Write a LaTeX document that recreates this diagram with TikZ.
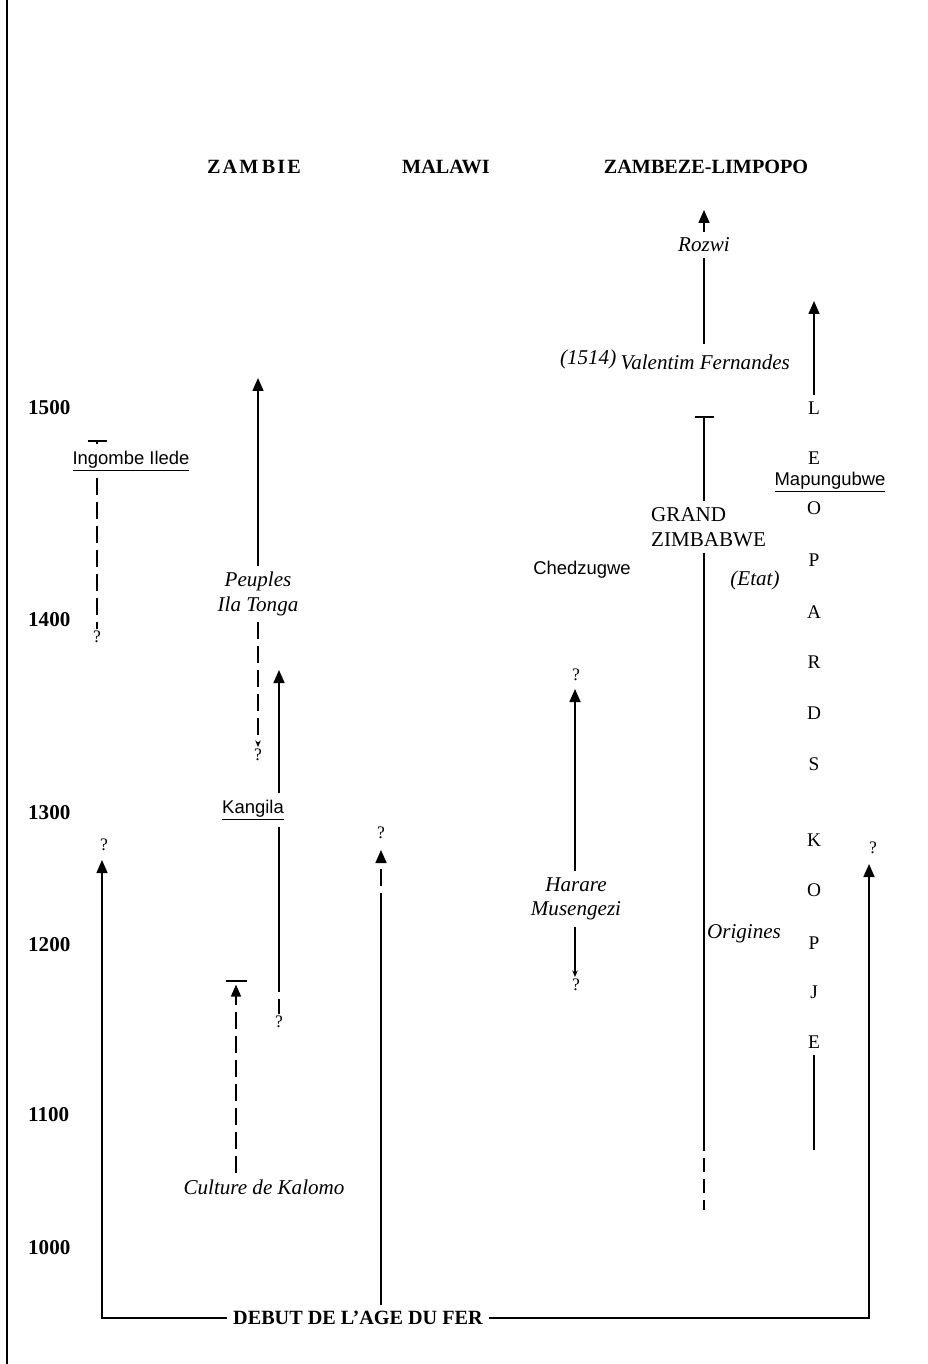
\documentclass[tikz,border=0pt]{standalone}
\usepackage{fontspec}
\setmainfont{Liberation Serif}
\setsansfont{Liberation Sans}
\usepackage{tikz}
\usetikzlibrary{arrows.meta, positioning}

\begin{document}
\begin{tikzpicture}[x=0.02cm, y=-0.02cm,
    hdr/.style={font=\fontsize{11.5}{13}\selectfont\bfseries},
    yr/.style={font=\fontsize{12}{14}\selectfont\bfseries, anchor=west},
    itl/.style={font=\fontsize{12}{14}\selectfont\itshape, align=center},
    sns/.style={font=\fontsize{10.5}{12}\selectfont\sffamily},
    rom/.style={font=\fontsize{12}{14}\selectfont, align=left},
    ltr/.style={font=\fontsize{11}{13}\selectfont},
    qm/.style={font=\fontsize{10}{12}\selectfont, inner sep=1pt},
    ln/.style={line width=0.9pt},
    arr/.style={ln, -{Triangle[length=2.6mm, width=2.2mm]}},
    sarr/.style={ln, -{Stealth[length=1.3mm, width=1.1mm]}},
    barr/.style={ln, -{Bar[width=3.8mm]}},
    dsh/.style={dash pattern=on 3.4mm off 1.4mm}
  ]
    \useasboundingbox (0,0) rectangle (927,1364);

    % ── page edge
    \draw[line width=1.1pt] (7,0) -- (7,1364);

    % ── headers
    \node[hdr] (hzam) at (254,167) {Z\kern1.2pt A\kern1.2pt M\kern2pt B\kern1.2pt I\kern1.2pt E};
    \node[hdr] (hmal) at (446,167) {MALAWI};
    \node[hdr] (hzl) at (706,167) {ZAMBEZE-LIMPOPO};

    % ── years
    \node[yr] (y1500) at (22,408) {1500};
    \node[yr] (y1400) at (22,620) {1400};
    \node[yr] (y1300) at (22,813) {1300};
    \node[yr] (y1200) at (22,945) {1200};
    \node[yr] (y1100) at (22,1115) {1100};
    \node[yr] (y1000) at (22,1248) {1000};

    % ── Zambie
    \node[sns] (ingombe) at (131,461) {\underline{Ingombe Ilede}};
    \coordinate (ingtop) at (97,440);
    \node[qm] (ingq) at (97,637) {?};
    \draw[barr] (ingombe.north -| ingtop) -- (ingtop);
    \draw[ln, dsh] (ingombe.south -| ingtop) -- (ingq.north);

    \node[itl] (ila) at (258,594) {Peuples\\Ila Tonga};
    \coordinate (ilatop) at (258,378);
    \node[qm] (ilaq) at (258,755) {?};
    \draw[arr] (ila.north) -- (ilatop);
    \draw[sarr, dsh] (ila.south) -- (ilaq.north);

    \node[sns] (kangila) at (253,810) {\underline{Kangila}};
    \coordinate (kangtop) at (279,670);
    \coordinate (kangmid) at (279,975);
    \node[qm] (kangq) at (279,1022) {?};
    \draw[arr] (kangila.north -| kangtop) -- (kangtop);
    \draw[ln] (kangila.south -| kangtop) -- (kangmid);
    \draw[ln, dsh] (kangmid) -- (kangq.north);

    \node[itl] (kalomo) at (264,1187) {Culture de Kalomo};
    \coordinate (kaltop) at (236,980);
    \draw[ln, dsh, -{Triangle[length=2.4mm, width=2mm, sep=0.6mm]Bar[width=4.2mm]}]
      (kalomo.north -| kaltop) -- (kaltop);

    % ── Debut de l'age du fer
    \node[hdr] (debut) at (358,1318) {DEBUT DE L'AGE DU FER};
    \coordinate (bl) at (102,1318);
    \coordinate (br) at (869,1318);
    \coordinate (lefttop) at (102,860);
    \coordinate (righttop) at (869,864);
    \node[qm] (leftq) at (104,845) {?};
    \node[qm] (rightq) at (873,848) {?};
    \draw[arr] (debut.west) -- (bl) -- (lefttop);
    \draw[arr] (debut.east) -- (br) -- (righttop);

    % ── Malawi
    \coordinate (malmid) at (381,910);
    \coordinate (maltop) at (381,850);
    \node[qm] (malq) at (381,833) {?};
    \draw[ln] (debut.north -| maltop) -- (malmid);
    \draw[arr, dsh] (malmid) -- (maltop);

    % ── Zambeze-Limpopo
    \node[itl] (rozwi) at (704,245) {Rozwi};
    \coordinate (rozwitop) at (704,210);
    \node[itl] (valentim) at (675,360)
      {\raisebox{2.5pt}{(1514)}\kern2.5pt Valentim Fernandes};
    \draw[ln] (valentim.north -| rozwi) -- (rozwi.south);
    \draw[arr] (rozwi.north) -- (rozwitop);

    \node[rom, anchor=west] (grand) at (645,527) {GRAND\\ZIMBABWE};
    \coordinate (gztop) at (704,416);
    \coordinate (gzmid) at (704,1137);
    \coordinate (gzbot) at (704,1210);
    \draw[barr] (grand.north -| gztop) -- (gztop);
    \draw[ln] (grand.south -| gztop) -- (gzmid);
    \draw[ln, dash pattern=on 2.8mm off 1.4mm] (gzmid) -- (gzbot);
    \node[itl] (etat) at (755,580) {(Etat)};
    \node[itl] (origines) at (744,934) {Origines};

    \node[sns] (chedz) at (582,570) {Chedzugwe};

    \node[itl] (harare) at (576,899) {Harare\\Musengezi};
    \coordinate (hartop) at (575,689);
    \node[qm] (harq) at (576,675) {?};
    \node[qm] (harq2) at (576,985) {?};
    \draw[arr] (harare.north -| hartop) -- (hartop);
    \draw[sarr] (harare.south -| hartop) -- (harq2.north -| hartop);

    % ── Leopards Kopje
    \foreach \ch/\yy [count=\i] in {L/408, E/458, O/508, P/560, A/612, R/662,
        D/713, S/764, K/840, O/890, P/943, J/992, E/1042}
      \node[ltr] (lk\i) at (814,\yy) {\ch};
    \coordinate (lktop) at (814,301);
    \coordinate (lkbot) at (814,1150);
    \draw[arr] (lk1.north) -- (lktop);
    \draw[ln] (lk13.south) -- (lkbot);
    \node[sns] (mapung) at (830,482) {\underline{Mapungubwe}};
\end{tikzpicture}
\end{document}
